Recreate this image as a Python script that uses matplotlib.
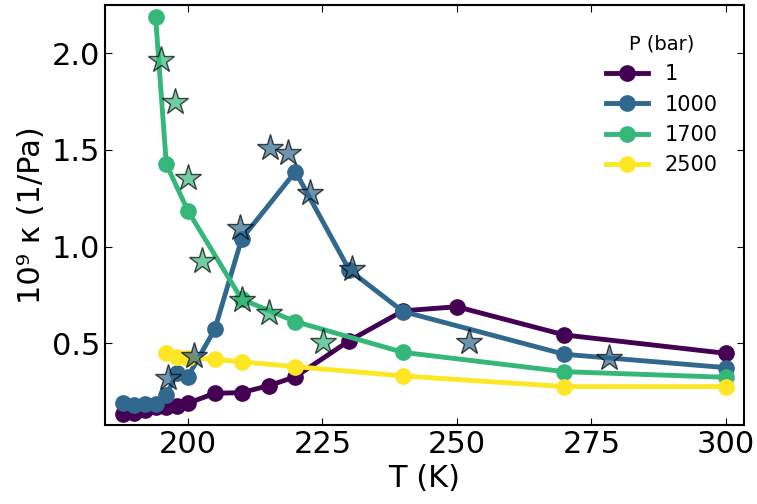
import matplotlib
matplotlib.use('Agg')
import matplotlib.pyplot as plt
import numpy as np

# compressibility vs temperature at several pressures
T_1 = [188, 190, 192, 194, 196, 198, 200, 205, 210, 215, 220, 230, 240, 250, 270, 300]
k_1 = [0.134, 0.138, 0.155, 0.172, 0.170, 0.177, 0.190, 0.241, 0.245, 0.280, 0.327, 0.513, 0.668, 0.689, 0.543, 0.448]

T_1000 = [188, 190, 192, 194, 196, 198, 200, 205, 210, 220, 230, 240, 270, 300]
k_1000 = [0.193, 0.181, 0.184, 0.184, 0.233, 0.345, 0.327, 0.572, 1.040, 1.388, 0.879, 0.664, 0.443, 0.374]

T_1700 = [194, 196, 200, 210, 220, 240, 270, 300]
k_1700 = [2.190, 1.426, 1.186, 0.728, 0.612, 0.453, 0.353, 0.324]

T_2500 = [196, 198, 200, 205, 210, 220, 240, 270, 300]
k_2500 = [0.451, 0.431, 0.425, 0.417, 0.404, 0.379, 0.331, 0.276, 0.276]

# star points (reference values)
Ts_1000 = [196.4, 201.2, 209.7, 215.2, 218.7, 222.7, 230.5, 252.2, 278.2]
ks_1000 = [0.319, 0.434, 1.095, 1.512, 1.486, 1.276, 0.883, 0.508, 0.426]

Ts_1700 = [195.0, 197.6, 200.1, 202.6, 210.0, 215.0, 225.1]
ks_1700 = [1.966, 1.750, 1.353, 0.927, 0.724, 0.658, 0.508]

labels = ['1', '1000', '1700', '2500']
colors = [plt.cm.viridis(v) for v in [0.0, 1/3, 2/3, 1.0]]

fig = plt.figure(figsize=(7.57, 5.04), dpi=100)
ax = fig.add_axes([0.1387, 0.1567, 0.983 - 0.1387, 0.990 - 0.1567])

series = [(T_1, k_1), (T_1000, k_1000), (T_1700, k_1700), (T_2500, k_2500)]
for (T, k), lab, c in zip(series, labels, colors):
    ax.plot(T, k, '-o', color=c, lw=3.5, ms=11, label=lab)

ax.plot(Ts_1000, ks_1000, '*', ms=20, color=colors[1], alpha=0.7,
        markeredgecolor='k', markeredgewidth=1.0, ls='none')
ax.plot(Ts_1700, ks_1700, '*', ms=20, color=colors[2], alpha=0.7,
        markeredgecolor='k', markeredgewidth=1.0, ls='none')

ax.set_xlim(184.6, 303.4)
ax.set_ylim(0.077, 2.25)
ax.set_xticks([200, 225, 250, 275, 300])
ax.set_yticks([0.5, 1.0, 1.5, 2.0])

ax.tick_params(direction='in', top=True, right=True, labelsize=22, length=5)
for s in ax.spines.values():
    s.set_linewidth(1.5)

ax.set_xlabel('T (K)', fontsize=22)
ax.set_ylabel('10⁹ κ (1/Pa)', fontsize=22)

leg = ax.legend(title='P (bar)', loc='upper right', bbox_to_anchor=(0.9875, 0.974),
                frameon=False, fontsize=15, title_fontsize=14, labelspacing=0.5)

fig.savefig('out.png', dpi=100)
